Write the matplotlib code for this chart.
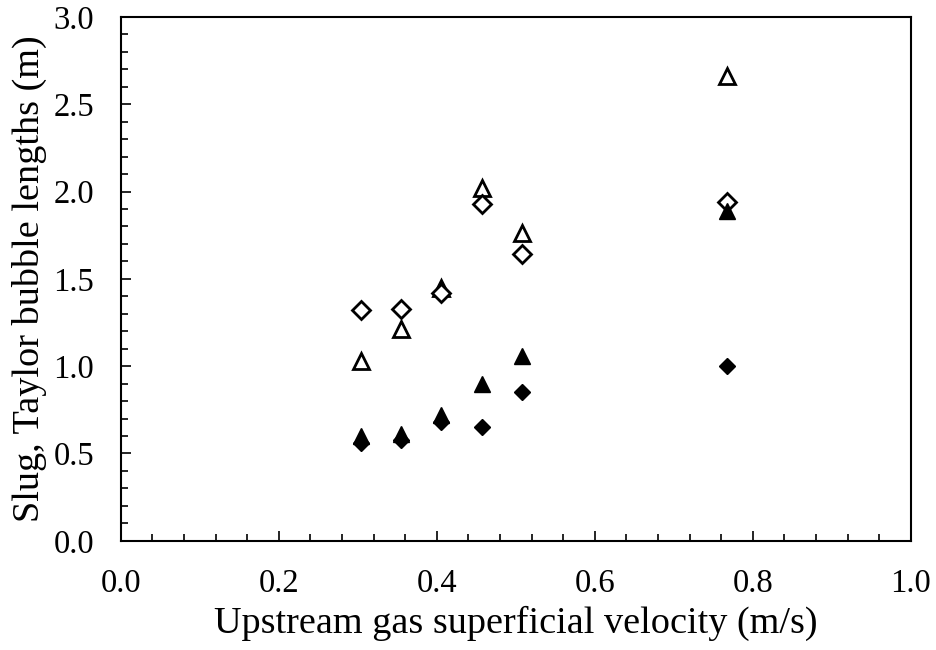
import numpy as np
import matplotlib
matplotlib.use("Agg")
import matplotlib.pyplot as plt
from matplotlib.ticker import MultipleLocator, FormatStrFormatter

# Velocidades del gas (m/s)
velocidad = [0.304, 0.355, 0.406, 0.457, 0.508, 0.767]

# Longitudes (m) por serie
tri_abierto = [1.03, 1.21, 1.45, 2.02, 1.76, 2.66]
rombo_abierto = [1.32, 1.33, 1.42, 1.93, 1.64, 1.94]
tri_lleno = [0.60, 0.61, 0.72, 0.90, 1.06, 1.89]
rombo_lleno = [0.56, 0.58, 0.68, 0.65, 0.85, 1.00]

plt.rcParams['font.family'] = ['Liberation Serif', 'DejaVu Serif']

fig = plt.figure(figsize=(9.36, 6.5), dpi=100)
ax = fig.add_axes([0.129, 0.168, 0.844, 0.806])

ax.plot(velocidad, tri_abierto, linestyle='none', marker='^', ms=12,
        mfc='white', mec='black', mew=2)
ax.plot(velocidad, rombo_abierto, linestyle='none', marker='D', ms=9.5,
        mfc='white', mec='black', mew=2)
ax.plot(velocidad, tri_lleno, linestyle='none', marker='^', ms=11,
        mfc='black', mec='black', mew=1)
ax.plot(velocidad, rombo_lleno, linestyle='none', marker='D', ms=8.5,
        mfc='black', mec='black', mew=1)

ax.set_xlim(0, 1.0)
ax.set_ylim(0, 3.0)
ax.xaxis.set_major_locator(MultipleLocator(0.2))
ax.xaxis.set_minor_locator(MultipleLocator(0.04))
ax.yaxis.set_major_locator(MultipleLocator(0.5))
ax.yaxis.set_minor_locator(MultipleLocator(0.1))
ax.xaxis.set_major_formatter(FormatStrFormatter('%.1f'))
ax.yaxis.set_major_formatter(FormatStrFormatter('%.1f'))

ax.tick_params(which='major', direction='in', length=7, width=1.2, labelsize=23.5)
ax.tick_params(which='minor', direction='in', length=5, width=1.2)
ax.tick_params(axis='x', which='major', pad=20)
ax.tick_params(axis='y', which='major', pad=19)
for s in ax.spines.values():
    s.set_linewidth(1.5)

ax.set_xlabel('Upstream gas superficial velocity (m/s)', fontsize=27.5, labelpad=5)
ax.set_ylabel('Slug, Taylor bubble lengths (m)', fontsize=27.5, labelpad=5)

fig.savefig('out.png', dpi=100)
